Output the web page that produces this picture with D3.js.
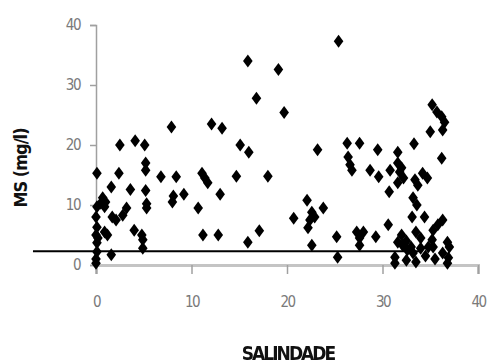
<!DOCTYPE html>
<html>
<head>
<meta charset="utf-8">
<script src="https://cdn.jsdelivr.net/npm/d3@7"></script>
<style>
  html, body { margin: 0; padding: 0; background: #fff; }
  svg { display: block; }
</style>
</head>
<body>
<div id="chart"></div>
<script>
// salinity (x) and MS (y) pairs
const salinidade = [
  0.1, 0.1, 0, 0.1, 0, 0.1, 0.1, 0, 0, 0.2,
  0.7, 0.9, 0.5, 1.0, 0.9, 1.2, 1.6,
  1.6, 1.7, 2.1, 2.5, 2.4, 2.8, 3.2, 3.6,
  4.1, 4.0, 4.8, 4.9, 4.9, 5.1, 5.2, 5.2, 5.2, 5.3, 5.3,
  6.8, 7.9, 8.4, 8.1, 8.0, 9.2, 10.7, 11.1, 11.4, 11.7, 11.2, 12.8, 12.1, 13.2, 13.0,
  14.7, 15.1, 16.0, 15.9, 16.8, 19.1, 19.7, 18.0, 17.1, 15.9, 20.7, 22.1, 22.6, 22.9, 22.4, 22.2, 23.8, 23.2, 22.6, 25.2, 25.3, 25.4,
  26.3, 27.6, 26.4, 26.6, 26.8, 29.5, 31.6, 28.7, 29.6, 30.8, 31.6, 31.8, 31.6, 30.7,
  27.3, 28.0, 27.6, 27.6, 29.3, 30.6, 31.6, 32.1, 31.3, 31.3,
  33.3, 35.2, 35.7, 36.2, 36.5, 35.0, 36.3, 36.2, 32.0, 32.2, 34.2, 34.7, 33.4, 33.7, 33.2, 33.6, 33.1, 34.4, 36.3, 35.8, 35.3,
  32.0, 32.5, 33.0, 33.5, 34.0, 33.2, 32.6, 34.0, 35.2, 34.8,
  36.8, 37.0, 35.3, 36.3, 36.9, 36.8, 35.5, 34.5, 33.5, 32.5
];
const ms = [
  15.3, 9.7, 8, 6.3, 5, 3.7, 2.2, 1, 0.3, 4.5,
  11.2, 9.7, 10.3, 10.5, 5.5, 5, 1.7,
  13, 8, 7.5, 20, 15.3, 8.3, 9.5, 12.6,
  20.7, 5.8, 5, 4.2, 2.8, 20, 17, 15.8, 12.4, 9.5, 10.2,
  14.7, 23, 14.7, 11.5, 10.5, 11.8, 9.5, 15.3, 14.5, 13.7, 5, 5, 23.5, 22.8, 11.8,
  14.8, 20, 18.8, 34, 27.8, 32.6, 25.4, 14.8, 5.7, 3.8, 7.8, 10.8, 8.8, 8, 7.5, 6.2, 9.5, 19.2, 3.3, 4.7, 1.3, 37.3,
  20.3, 20.3, 18, 16.7, 15.8, 19.2, 18.8, 15.8, 14.7, 15.8, 17, 15.5, 13.7, 12.2,
  5.5, 5.5, 4.5, 3.3, 4.7, 6.7, 3.8, 3.3, 1.3, 0.3,
  20.2, 26.7, 25.5, 24.7, 23.8, 22.2, 22.5, 17.8, 16.2, 14.5, 15.3, 14.5, 14.2, 13.3, 11.2, 10, 8, 8, 7.5, 6.7, 5.8,
  5, 4, 3, 5.5, 4.5, 2, 2.5, 2.8, 4.2, 3,
  3.8, 3, 3, 2, 1.2, 0.3, 1, 1.5, 0.5, 0.8
];
const xTicks = [0, 10, 20, 30, 40];
const yTicks = [0, 10, 20, 30, 40];
// reference line (value units)
const refY = 2.3;
const refX = [-6.6, 34.1];

const W = 490, H = 363;
const svg = d3.select("#chart").append("svg")
  .attr("width", W)
  .attr("height", H);

const x = d3.scaleLinear().domain([0, 40]).range([96, 478]);
const y = d3.scaleLinear().domain([0, 40]).range([265, 25]);

const axisGray = "#a0a0a0";
const labelGray = "#7a7a7a";
const font = "'DejaVu Sans Condensed', 'Liberation Sans Narrow', sans-serif";

// x axis
const xAxis = svg.append("g")
  .attr("transform", `translate(0,${y(0)})`)
  .call(d3.axisBottom(x).tickValues(xTicks).tickSize(9).tickSizeOuter(9).tickPadding(22));
xAxis.select(".domain").attr("stroke", "#c4c4c4").attr("stroke-width", 3);
xAxis.selectAll(".tick line").attr("stroke", axisGray).attr("stroke-width", 1.5);
xAxis.selectAll(".tick text")
  .attr("fill", labelGray)
  .style("font-family", font)
  .style("font-size", "15px")
  .style("letter-spacing", "-1.5px");

// y axis
const yAxis = svg.append("g")
  .attr("transform", `translate(${x(0)},0)`)
  .call(d3.axisLeft(y).tickValues(yTicks).tickSize(6).tickSizeOuter(6).tickPadding(10));
yAxis.select(".domain").attr("stroke", axisGray).attr("stroke-width", 1.5);
yAxis.selectAll(".tick line").attr("stroke", axisGray).attr("stroke-width", 1.5);
yAxis.selectAll(".tick text")
  .attr("fill", labelGray)
  .style("font-family", font)
  .style("font-size", "15px")
  .style("letter-spacing", "-1.5px");

// points
const pts = salinidade.map((s, i) => ({ s: s, m: ms[i] }));
const defs = svg.append("defs");
defs.append("filter").attr("id", "soft")
  .append("feGaussianBlur").attr("stdDeviation", 0.5);

svg.append("g")
  .attr("filter", "url(#soft)")
  .selectAll("path")
  .data(pts)
  .enter().append("path")
  .attr("transform", d => `translate(${x(d.s)},${y(d.m)})`)
  .attr("d", "M0,-6.5L4.8,0L0,6.5L-4.8,0Z")
  .attr("fill", "#000");

// reference line
svg.append("line")
  .attr("x1", x(refX[0]))
  .attr("x2", x(refX[1]))
  .attr("y1", y(refY))
  .attr("y2", y(refY))
  .attr("stroke", "#000")
  .attr("stroke-width", 2);

// axis titles
svg.append("text")
  .attr("x", 288)
  .attr("y", 360)
  .attr("text-anchor", "middle")
  .style("font-family", font)
  .style("font-size", "19px")
  .style("font-weight", "bold")
  .style("letter-spacing", "-2px")
  .attr("fill", "#111")
  .text("SALINDADE");

svg.append("text")
  .attr("transform", "translate(27,168) rotate(-90)")
  .attr("text-anchor", "middle")
  .style("font-family", font)
  .style("font-size", "18px")
  .style("font-weight", "bold")
  .style("letter-spacing", "-1px")
  .attr("fill", "#111")
  .text("MS (mg/l)");
</script>
</body>
</html>
